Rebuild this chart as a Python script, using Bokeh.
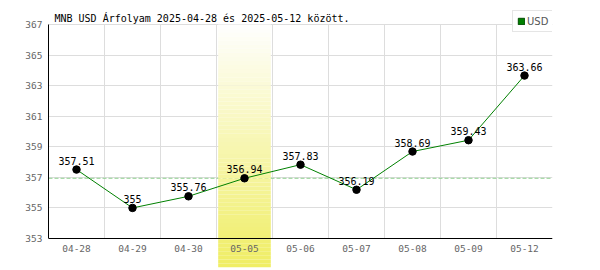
import numpy as np
from bokeh.plotting import figure
from bokeh.models import Range1d, FixedTicker, Span, Legend, LegendItem, Label
from bokeh.embed import file_html
from bokeh.resources import INLINE
from bokeh.core.properties import value

# ---- data ----
dates = ["04-28", "04-29", "04-30", "05-05", "05-06", "05-07", "05-08", "05-09", "05-12"]
rates = [357.51, 355.0, 355.76, 356.94, 357.83, 356.19, 358.69, 359.43, 363.66]
rate_labels = ["357.51", "355", "355.76", "356.94", "357.83", "356.19", "358.69", "359.43", "363.66"]
y_ticks = [353, 355, 357, 359, 361, 363, 365, 367]
highlight_date = "05-05"
series_name = "USD"
title_text = "MNB USD Árfolyam 2025-04-28 és 2025-05-12 között."

# ---- layout (pixels) ----
W, H = 600, 270
F_LEFT, F_RIGHT, F_BOTTOM = 48, 552, 267
GRID_TOP_PX, AXIS_PX = 24, 238  # pixel rows of the highest / lowest y tick

xs = list(range(len(dates)))
y_lo, y_hi = y_ticks[0], y_ticks[-1]
px_per_unit = (AXIS_PX - GRID_TOP_PX) / (y_hi - y_lo)
y_start = y_lo - (F_BOTTOM - AXIS_PX) / px_per_unit
y_end = y_hi + GRID_TOP_PX / px_per_unit

p = figure(width=W, height=H, output_backend="svg", toolbar_location=None,
           x_range=Range1d(-0.5, len(dates) - 0.5), y_range=Range1d(y_start, y_end),
           min_border_left=F_LEFT, min_border_right=W - F_RIGHT,
           min_border_top=0, min_border_bottom=H - F_BOTTOM,
           x_axis_location="below")
p.outline_line_color = None
p.background_fill_color = "white"
p.border_fill_color = "white"

# grids
p.ygrid.ticker = FixedTicker(ticks=y_ticks)
p.xgrid.ticker = FixedTicker(ticks=[x - 0.5 for x in xs] + [xs[-1] + 0.5])
for g in (p.xgrid, p.ygrid):
    g.grid_line_color = "#dddddd"
    g.grid_line_width = 1
p.xgrid.cross_bounds = (y_lo, y_hi)

# axes
ya = p.yaxis[0]
ya.ticker = FixedTicker(ticks=y_ticks)
ya.bounds = (y_lo, y_hi)
ya.major_tick_in = 0
ya.major_tick_out = 0
ya.minor_tick_line_color = None
ya.axis_line_color = "black"
ya.major_label_text_font = "DejaVu Sans Mono"
ya.major_label_text_font_size = "9.5px"
ya.major_label_text_color = "#666666"
ya.major_label_standoff = 6

xa = p.xaxis[0]
xa.ticker = FixedTicker(ticks=xs)
xa.major_label_overrides = {i: d for i, d in zip(xs, dates)}
xa.fixed_location = y_lo
xa.major_tick_in = 0
xa.major_tick_out = 0
xa.minor_tick_line_color = None
xa.axis_line_color = "black"
xa.major_label_text_font = "DejaVu Sans Mono"
xa.major_label_text_font_size = "9.5px"
xa.major_label_text_color = "#666666"
xa.major_label_standoff = 6

# title
p.add_layout(Label(x=-0.5, y=y_hi, x_offset=6, y_offset=6, text=title_text,
                   text_font="DejaVu Sans Mono", text_font_size="10px",
                   text_color="black", text_baseline="alphabetic"))

# reference dashed line at the highlighted day's value
hi = dates.index(highlight_date)
p.add_layout(Span(location=rates[hi], dimension="width", line_color="#90d090",
                  line_dash="4 2", line_width=1, level="underlay"))

# highlighted day band (vertical gradient white -> yellow)
n = 60
edges = np.linspace(y_hi, y_start, n + 1)
top_c = np.array([255, 255, 255])
bot_c = np.array([240, 238, 100])
cols = []
for k in range(n):
    t = (k + 0.5) / n
    c = (top_c + (bot_c - top_c) * t).astype(int)
    cols.append("#%02x%02x%02x" % tuple(c))
p.quad(left=[xs[hi] - 0.47] * n, right=[xs[hi] + 0.47] * n,
       top=list(edges[:-1]), bottom=list(edges[1:]),
       fill_color=cols, line_color=None)

# series
p.line(xs, rates, line_color="#008000", line_width=1)
p.scatter(xs, rates, size=7.5, fill_color="black", line_color="black")
p.text(xs, rates, text=rate_labels, text_align="center", text_baseline="bottom",
       y_offset=-5, text_font=value("DejaVu Sans Mono"), text_font_size="10px",
       text_color="black")

# legend (swatch-only renderer: one row with no drawable coordinates)
r_leg = p.quad(left=[np.nan], right=[np.nan], top=[np.nan], bottom=[np.nan],
               fill_color="#008000", line_color="#004d00")
legend = Legend(items=[LegendItem(label=series_name, renderers=[r_leg])],
                location=(464, 235), padding=4, margin=0, spacing=0,
                glyph_width=8, glyph_height=8, label_standoff=2, label_height=12,
                label_text_font="DejaVu Sans", label_text_font_size="10px",
                label_text_color="#555555", border_line_color="#cccccc",
                background_fill_color="white", background_fill_alpha=1.0)
p.add_layout(legend)

open("out.html", "w").write(file_html(p, INLINE))
